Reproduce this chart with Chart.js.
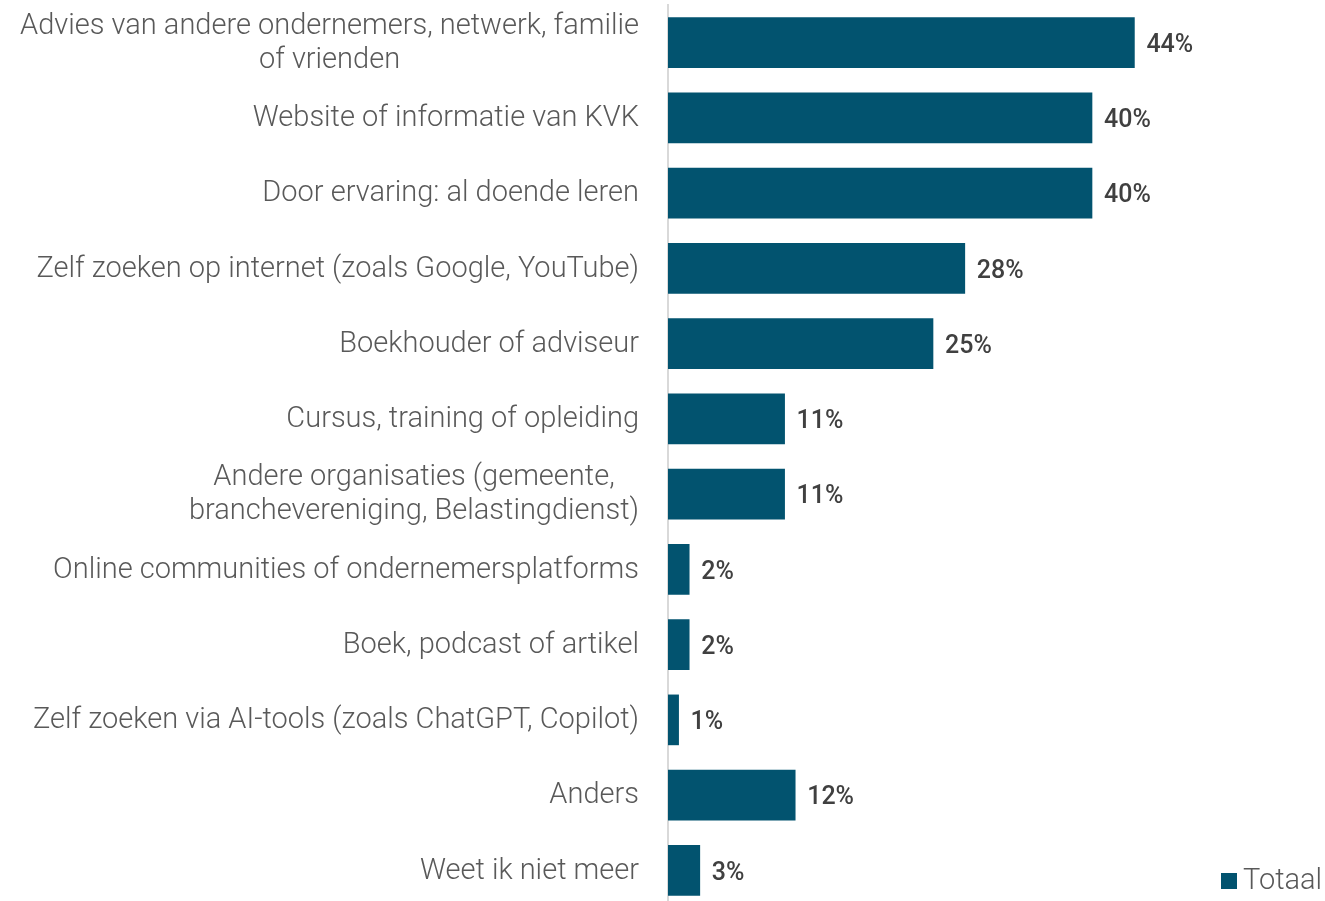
<!DOCTYPE html>
<html>
<head>
<meta charset="utf-8">
<script src="https://cdn.jsdelivr.net/npm/chart.js@4"></script>
<style>
  html, body { margin: 0; padding: 0; background: #fff; overflow: hidden; width: 1325px; height: 901px; }
  #wrap { width: 1325px; height: 909px; }
</style>
</head>
<body>
<div id="wrap"><canvas id="barChart"></canvas></div>
<script>
// categories (multi-line ones as arrays)
const categories = [
    ['Advies van andere ondernemers, netwerk, familie', 'of vrienden'],
    'Website of informatie van KVK',
    'Door ervaring: al doende leren',
    'Zelf zoeken op internet (zoals Google, YouTube)',
    'Boekhouder of adviseur',
    'Cursus, training of opleiding',
    ['Andere organisaties (gemeente,', 'branchevereniging, Belastingdienst)'],
    'Online communities of ondernemersplatforms',
    'Boek, podcast of artikel',
    'Zelf zoeken via AI-tools (zoals ChatGPT, Copilot)',
    'Anders',
    'Weet ik niet meer'
];
const totaal = [44, 40, 40, 28, 25, 11, 11, 2, 2, 1, 12, 3];
const seriesName = 'Totaal';
const barColor = '#02536f';

// category labels: block right aligned, lines centred inside the block
const categoryLabels = {
    id: 'categoryLabels',
    afterDraw(chart) {
        const ctx = chart.ctx;
        const yScale = chart.scales.y;
        const right = chart.chartArea.left - 29;
        const lineH = 34;
        ctx.save();
        ctx.font = '300 29px Roboto';
        ctx.fillStyle = '#595959';
        ctx.textBaseline = 'middle';
        ctx.textAlign = 'center';
        categories.forEach((cat, i) => {
            const lines = Array.isArray(cat) ? cat : [cat];
            const w = Math.max(...lines.map(l => ctx.measureText(l).width));
            const cx = right - w / 2;
            const y0 = yScale.getPixelForTick(i) - (lines.length - 1) * lineH / 2 + 1;
            lines.forEach((l, j) => ctx.fillText(l, cx, y0 + j * lineH));
        });
        ctx.restore();
    }
};

// value labels right of each bar
const valueLabels = {
    id: 'valueLabels',
    afterDatasetsDraw(chart) {
        const ctx = chart.ctx;
        const meta = chart.getDatasetMeta(0);
        ctx.save();
        ctx.font = '500 25px Roboto';
        ctx.fillStyle = '#404040';
        ctx.textBaseline = 'middle';
        ctx.textAlign = 'left';
        meta.data.forEach((bar, i) => {
            ctx.fillText(totaal[i] + '%', bar.x + 12, bar.y + 3);
        });
        ctx.restore();
    }
};

// legend in bottom right corner
const cornerLegend = {
    id: 'cornerLegend',
    afterDraw(chart) {
        const ctx = chart.ctx;
        ctx.save();
        ctx.fillStyle = barColor;
        ctx.fillRect(1221, 873, 16, 16);
        ctx.font = '300 29px Roboto';
        ctx.fillStyle = '#595959';
        ctx.textBaseline = 'middle';
        ctx.textAlign = 'left';
        ctx.fillText(seriesName, 1243, 882);
        ctx.restore();
    }
};

function createBarChart() {
    const ctx = document.getElementById('barChart').getContext('2d');
    new Chart(ctx, {
        type: 'bar',
        data: {
            labels: categories,
            datasets: [{
                label: seriesName,
                data: totaal,
                backgroundColor: barColor,
                barThickness: 50
            }]
        },
        options: {
            indexAxis: 'y',
            responsive: true,
            maintainAspectRatio: false,
            animation: false,
            layout: {
                padding: { top: 5, bottom: 1, left: 0, right: 127 }
            },
            scales: {
                x: {
                    display: false,
                    min: 0,
                    max: 50
                },
                y: {
                    afterFit(scale) {
                        scale.width = 668;
                        scale.paddingTop = 0;
                        scale.paddingBottom = 0;
                    },
                    grid: { display: false, drawTicks: false },
                    border: { display: true, color: '#d9d9d9', width: 2 },
                    ticks: { display: false }
                }
            },
            plugins: {
                legend: { display: false },
                tooltip: { enabled: false }
            }
        },
        plugins: [categoryLabels, valueLabels, cornerLegend]
    });
}

document.addEventListener('DOMContentLoaded', createBarChart);
</script>
</body>
</html>
